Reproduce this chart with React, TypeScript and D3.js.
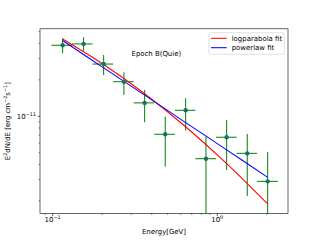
import React from "react";
import * as d3 from "d3";

// spectral points (energy in GeV, flux in erg cm^-2 s^-1)
const energy = [0.115, 0.1542, 0.2041, 0.2711, 0.3621, 0.483, 0.6427, 0.8539, 1.1405, 1.5215, 2.0241];
const energyLo = [0.0982, 0.131, 0.1747, 0.2331, 0.3105, 0.4143, 0.5527, 0.7371, 0.9833, 1.31, 1.747];
const energyHi = [0.131, 0.1747, 0.2331, 0.3105, 0.4143, 0.5527, 0.7371, 0.9833, 1.31, 1.747, 2.331];
const flux = [3.86e-11, 3.96e-11, 2.7e-11, 1.93e-11, 1.29e-11, 7.1e-12, 1.12e-11, 4.46e-12, 6.71e-12, 4.94e-12, 2.9e-12];
const fluxHi = [4.41e-11, 4.5e-11, 3.21e-11, 2.31e-11, 1.65e-11, 9.93e-12, 1.41e-11, 6.78e-12, 9.32e-12, 7.14e-12, 5.07e-12];
// lower ends of bars that run off the bottom of the axes
const fluxLo = [3.32e-11, 3.47e-11, 2.19e-11, 1.5e-11, 8.92e-12, 3.83e-12, 7.6e-12, 1e-13, 3.6e-12, 2.19e-12, 1e-13];

// fitted models, sampled along the curve
const fitEnergy = [0.115, 0.2041, 0.3621, 0.6427, 1.1405, 2.0241];
const logparabola = [4.35e-11, 2.675e-11, 1.535e-11, 8.19e-12, 4.07e-12, 1.885e-12];
const powerlaw = [4.23e-11, 2.51e-11, 1.494e-11, 8.87e-12, 5.28e-12, 3.13e-12];

const xMajor = [0.1, 1];
const yMajor = [1e-11];

const FONT = "DejaVu Sans, sans-serif";
const FS = 6.94;

export default function App() {
  const margin = { left: 40, right: 288, top: 28.8, bottom: 213.6 };
  const x = d3.scaleLog().domain([0.0838, 2.69]).range([margin.left, margin.right]);
  const y = d3.scaleLog().domain([1.57e-12, 5.28e-11]).range([margin.bottom, margin.top]);

  const xMinor: number[] = [];
  const yMinor: number[] = [];
  for (const dec of [0.01, 0.1, 1]) {
    for (let k = 2; k <= 9; k++) {
      const v = k * dec;
      if (v >= 0.0838 && v <= 2.69) xMinor.push(v);
    }
  }
  for (const dec of [1e-12, 1e-11]) {
    for (let k = 2; k <= 9; k++) {
      const v = k * dec;
      if (v >= 1.57e-12 && v <= 5.28e-11) yMinor.push(v);
    }
  }

  const curve = d3
    .line<[number, number]>()
    .x((d) => x(d[0]))
    .y((d) => y(d[1]))
    .curve(d3.curveCatmullRom);

  const lpData = fitEnergy.map((e, i) => [e, logparabola[i]] as [number, number]);
  const plData = fitEnergy.map((e, i) => [e, powerlaw[i]] as [number, number]);

  return (
    <svg width={320} height={240} style={{ position: "absolute", left: 0, top: 0 }}>
      <rect width={320} height={240} fill="#fff" />
      <defs>
        <clipPath id="plotArea">
          <rect x={margin.left} y={margin.top} width={margin.right - margin.left} height={margin.bottom - margin.top} />
        </clipPath>
      </defs>

      <g clipPath="url(#plotArea)">
        {energy.map((e, i) => (
          <g key={i} stroke="green" strokeWidth={1}>
            <line x1={x(energyLo[i])} x2={x(energyHi[i])} y1={y(flux[i])} y2={y(flux[i])} />
            <line x1={x(e)} x2={x(e)} y1={y(fluxLo[i])} y2={y(fluxHi[i])} />
          </g>
        ))}
        <path d={curve(lpData) || ""} fill="none" stroke="red" strokeWidth={1.04} />
        <path d={curve(plData) || ""} fill="none" stroke="blue" strokeWidth={1.04} />
        {energy.map((e, i) => (
          <circle key={i} cx={x(e)} cy={y(flux[i])} r={2.2} fill="#1b6f64" />
        ))}
      </g>

      {/* spines */}
      <rect
        x={margin.left}
        y={margin.top}
        width={margin.right - margin.left}
        height={margin.bottom - margin.top}
        fill="none"
        stroke="#000"
        strokeWidth={0.6}
      />

      {/* x ticks */}
      {xMajor.map((v) => (
        <g key={v}>
          <line x1={x(v)} x2={x(v)} y1={margin.bottom} y2={margin.bottom + 2.4} stroke="#000" strokeWidth={0.6} />
          <text x={x(v)} y={margin.bottom + 8.6} fontFamily={FONT} fontSize={FS} textAnchor="middle">
            <tspan>10</tspan>
            <tspan dy={-2.8} fontSize={4.9}>{v < 1 ? "\u22121" : "0"}</tspan>
          </text>
        </g>
      ))}
      {xMinor.map((v) => (
        <line key={v} x1={x(v)} x2={x(v)} y1={margin.bottom} y2={margin.bottom + 1.4} stroke="#000" strokeWidth={0.45} />
      ))}

      {/* y ticks */}
      {yMajor.map((v) => (
        <g key={v}>
          <line x1={margin.left - 2.4} x2={margin.left} y1={y(v)} y2={y(v)} stroke="#000" strokeWidth={0.6} />
          <text x={margin.left - 4} y={y(v) + 2.5} fontFamily={FONT} fontSize={FS} textAnchor="end">
            <tspan>10</tspan>
            <tspan dy={-2.8} fontSize={4.9}>{"\u221211"}</tspan>
          </text>
        </g>
      ))}
      {yMinor.map((v) => (
        <line key={v} x1={margin.left - 1.4} x2={margin.left} y1={y(v)} y2={y(v)} stroke="#000" strokeWidth={0.45} />
      ))}

      {/* axis labels */}
      <text x={(margin.left + margin.right) / 2} y={234} fontFamily={FONT} fontSize={FS} textAnchor="middle">
        Energy[GeV]
      </text>
      <text
        transform={`translate(9.5,${(margin.top + margin.bottom) / 2}) rotate(-90)`}
        fontFamily={FONT}
        fontSize={FS}
        textAnchor="middle"
      >
        <tspan>E</tspan>
        <tspan dy={-2.6} fontSize={4.9}>2</tspan>
        <tspan dy={2.6}>dN/dE [erg cm</tspan>
        <tspan dy={-2.6} fontSize={4.9}>{"\u22122"}</tspan>
        <tspan dy={2.6}>s</tspan>
        <tspan dy={-2.6} fontSize={4.9}>{"\u22121"}</tspan>
        <tspan dy={2.6}>]</tspan>
      </text>

      <text x={131.5} y={55.8} fontFamily={FONT} fontSize={FS}>
        Epoch B(Quie)
      </text>

      {/* legend */}
      <g>
        <rect x={209} y={32.7} width={75.3} height={21.6} rx={1.5} fill="#fff" fillOpacity={0.8} stroke="#ccc" strokeWidth={0.6} />
        <line x1={211} x2={226.7} y1={38.3} y2={38.3} stroke="red" strokeWidth={1.04} />
        <text x={231.7} y={40.7} fontFamily={FONT} fontSize={FS}>logparabola fit</text>
        <line x1={211} x2={226.7} y1={47.7} y2={47.7} stroke="blue" strokeWidth={1.04} />
        <text x={231.7} y={50.1} fontFamily={FONT} fontSize={FS}>powerlaw fit</text>
      </g>
    </svg>
  );
}
